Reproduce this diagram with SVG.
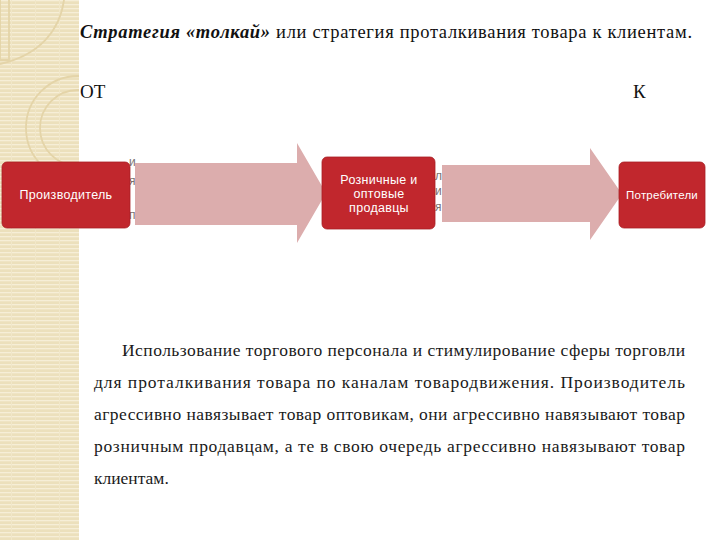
<svg xmlns="http://www.w3.org/2000/svg" width="720" height="540" viewBox="0 0 720 540">
  <defs>
    <pattern id="stripes" width="24" height="4" patternUnits="userSpaceOnUse">
      <rect width="24" height="4" fill="#ece0bc"/>
      <rect y="0" width="24" height="1.3" fill="#f6eed7"/>
      <rect x="11" width="1" height="4" fill="#f1e7c9"/>
    </pattern>
    <clipPath id="stripClip"><rect x="0" y="0" width="79" height="540"/></clipPath>
    <style>
      .node { fill: #c1272d; stroke: #a81f24; stroke-width: 0.8; }
      .ntext { font-family: "Liberation Sans", Arial, sans-serif; font-size: 12.5px; letter-spacing: 0.3px; fill: #ffffff; text-anchor: middle; }
      .arrow { fill: #dcadad; }
      .frag { font-family: "Liberation Sans", Arial, sans-serif; font-size: 12px; fill: #7a7272; }
      .serif { font-family: "Liberation Serif", "Times New Roman", serif; fill: #111111; }
      .para { font-family: "Liberation Serif", "Times New Roman", serif; font-size: 17.5px; fill: #1a1a1a; }
      .deco { fill: none; stroke: #e4d4a8; stroke-width: 1.8; }
    </style>
  </defs>

  <rect width="720" height="540" fill="#ffffff"/>

  <!-- decorative left strip -->
  <g id="strip">
    <rect x="0" y="0" width="79" height="540" fill="url(#stripes)"/>
    <g clip-path="url(#stripClip)">
      <path class="deco" d="M64,0 C60,30 40,55 0,64"/>
      <path class="deco" d="M0,0 L0,60 L9,60 L9,0" stroke-width="1"/>
      <circle class="deco" cx="78" cy="128" r="52"/>
      <circle class="deco" cx="78" cy="128" r="38" stroke-width="1.4"/>
    </g>
  </g>

  <!-- title -->
  <text id="title" class="serif" x="80" y="38" font-size="18.5" textLength="612" lengthAdjust="spacing"><tspan font-weight="bold" font-style="italic">Стратегия «толкай»</tspan> или стратегия проталкивания товара к клиентам.</text>
  <text class="serif" x="80" y="98" font-size="19">ОТ</text>
  <text class="serif" x="633" y="98" font-size="19">К</text>

  <!-- hidden text fragments -->
  <g id="fragments">
    <text class="frag" x="129" y="166">и</text>
    <text class="frag" x="129" y="185">я</text>
    <text class="frag" x="129" y="219">п</text>
    <text class="frag" x="435" y="180">л</text>
    <text class="frag" x="435" y="195">и</text>
    <text class="frag" x="435" y="211">я</text>
  </g>

  <!-- connectors -->
  <g id="connectors">
    <polygon class="arrow" points="135,163 297,163 297,143 326,193 297,243 297,225 135,225"/>
    <polygon class="arrow" points="442,165 590,165 590,148 622,194 590,240 590,222 442,222"/>
  </g>

  <g id="node-producer">
    <rect class="node" x="2" y="162" width="128" height="66" rx="5"/>
    <text class="ntext" x="66" y="199">Производитель</text>
  </g>
  <g id="node-sellers">
    <rect class="node" x="322" y="157" width="113" height="72" rx="5"/>
    <text class="ntext" x="379" y="184">Розничные и</text>
    <text class="ntext" x="379" y="198">оптовые</text>
    <text class="ntext" x="379" y="212">продавцы</text>
  </g>
  <g id="node-consumers">
    <rect class="node" x="619" y="162" width="86" height="66" rx="5"/>
    <text class="ntext" x="662" y="199" style="font-size:11.5px;letter-spacing:0.2px">Потребители</text>
  </g>

  <!-- paragraph -->
  <g id="paragraph">
    <text class="para" x="122" y="356" textLength="563" lengthAdjust="spacing">Использование торгового персонала и стимулирование сферы торговли</text>
    <text class="para" x="94" y="388" textLength="591" lengthAdjust="spacing">для проталкивания товара по каналам товародвижения. Производитель</text>
    <text class="para" x="94" y="420" textLength="591" lengthAdjust="spacing">агрессивно навязывает товар оптовикам, они агрессивно навязывают товар</text>
    <text class="para" x="94" y="452" textLength="591" lengthAdjust="spacing">розничным продавцам, а те в свою очередь агрессивно навязывают товар</text>
    <text class="para" x="94" y="484">клиентам.</text>
  </g>
</svg>
